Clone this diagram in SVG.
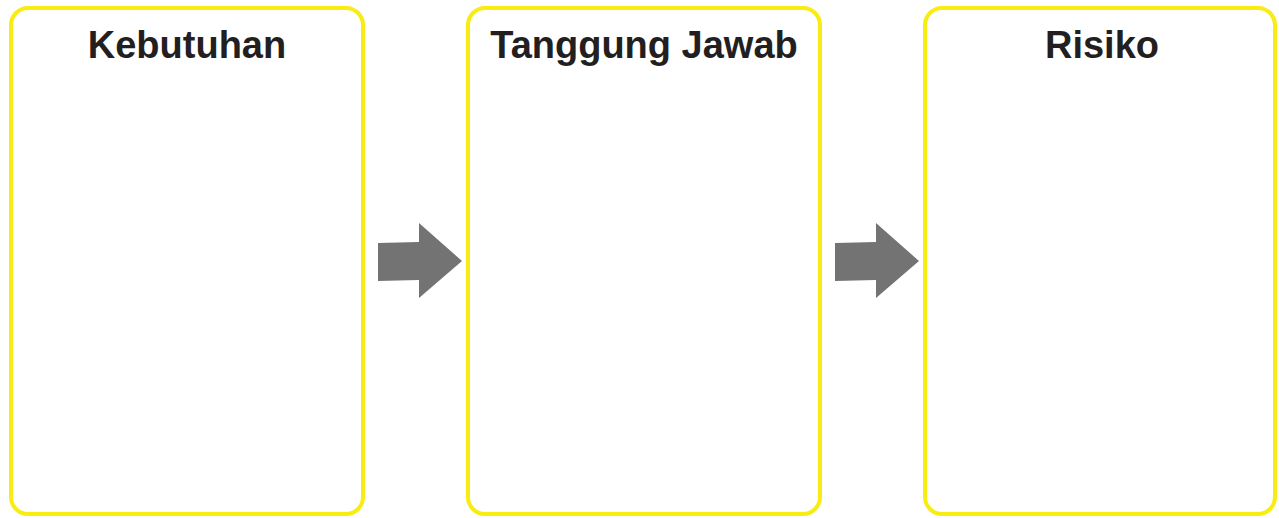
<svg xmlns="http://www.w3.org/2000/svg" width="1279" height="518" viewBox="0 0 1279 518">
<style>
.box{fill:#fff;stroke:#f8ec12;stroke-width:4}
.title{font-family:"Liberation Sans",Arial,sans-serif;font-weight:bold;font-size:38px;fill:#231f20;text-anchor:middle}
.arrow{fill:#737373}
</style>
<rect width="1279" height="518" fill="#fff"/>
<g id="node-kebutuhan">
<rect class="box" x="11" y="8" width="352" height="506" rx="17" ry="17"/>
<text class="title" x="187" y="58">Kebutuhan</text>
</g>
<g id="node-tanggung-jawab">
<rect class="box" x="468" y="8" width="352" height="506" rx="17" ry="17"/>
<text class="title" x="644" y="58">Tanggung Jawab</text>
</g>
<g id="node-risiko">
<rect class="box" x="925" y="8" width="350" height="506" rx="17" ry="17"/>
<text class="title" x="1102" y="58">Risiko</text>
</g>
<g id="connectors">
<polygon class="arrow" points="378,243 419,242 419,223 462,261 419,298 419,280 378,281"/>
<polygon class="arrow" points="835,243 876,242 876,223 919,261 876,298 876,280 835,281"/>
</g>
</svg>
